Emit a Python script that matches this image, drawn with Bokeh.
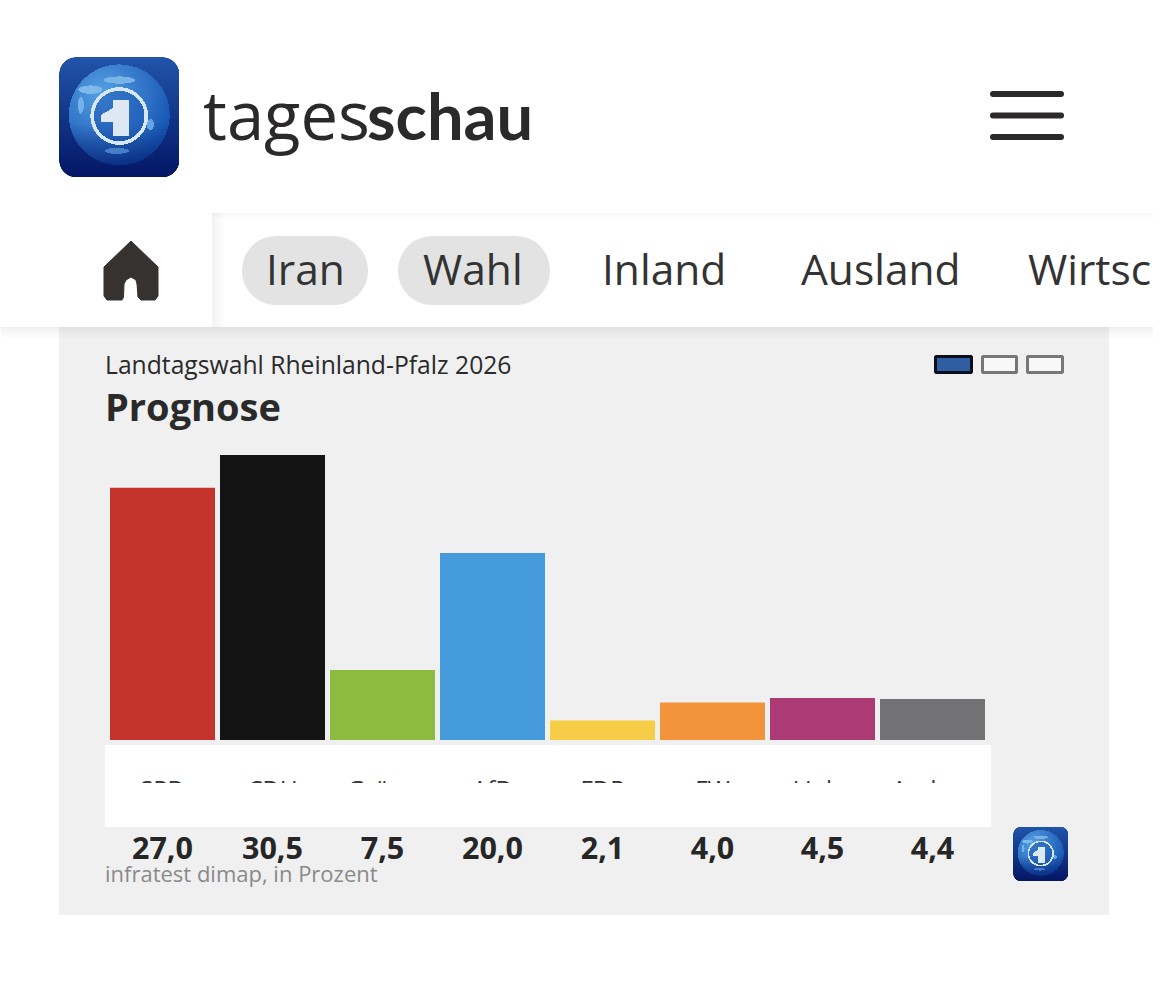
import numpy as np
from bokeh.core.properties import value
from bokeh.plotting import figure
from bokeh.models import Range1d
from bokeh.embed import file_html
from bokeh.resources import INLINE

categories = ["SPD", "CDU", "Grüne", "AfD", "FDP", "FW", "Linke", "Andere"]
values = [27.0, 30.5, 7.5, 20.0, 2.1, 4.0, 4.5, 4.4]
colors = ["#c4342c", "#141414", "#8cbb40", "#459bdb", "#f7cc47", "#f2943c", "#ac3a75", "#727275"]
nav_labels = ["Iran", "Wahl", "Inland", "Ausland", "Wirtsc"]

FONT = "Open Sans"
DARK = "#2b2a29"
L, T, R, B = 0.5, 0.5, 1153.5, 972.5
PX_PER_PCT = 9.344
BASE_Y = 740
PITCH = 110
FIRST_X = 162.5

p = figure(width=1153, height=972, output_backend="svg", toolbar_location=None,
           x_range=Range1d(L, R), y_range=Range1d(B, T), min_border=0,
           border_fill_color="white", background_fill_color="white")
p.axis.visible = False
p.grid.visible = False
p.outline_line_color = None
p.extra_x_ranges["idx"] = Range1d((L - FIRST_X) / PITCH, (R - FIRST_X) / PITCH)
p.extra_y_ranges["pct"] = Range1d((BASE_Y - B) / PX_PER_PCT, (BASE_Y - T) / PX_PER_PCT)
idx = list(range(len(categories)))


def logo(n):
    yy, xx = np.mgrid[0:n, 0:n]
    u, v = (xx + .5) / n, (yy + .5) / n
    top, bot = np.array([33, 84, 170.]), np.array([3, 22, 100.])
    img = top[None, None, :] * (1 - v[..., None]) + bot[None, None, :] * v[..., None]
    r0 = .14
    dx = np.maximum(np.abs(u - .5) - (.5 - r0), 0)
    dy = np.maximum(np.abs(v - .5) - (.5 - r0), 0)
    alpha = np.clip((r0 - np.hypot(dx, dy)) * n + .5, 0, 1)
    d = np.hypot(u - .5, v - .48)
    g = d < .42
    shade = np.clip(np.hypot(u - .36, v - .30) / .62, 0, 1)[..., None]
    globe = np.array([86, 160, 228.])[None, None, :] * (1 - shade) + np.array([22, 84, 178.])[None, None, :] * shade
    fade = np.clip((v - .55) / .35, 0, 1)[..., None] * .6
    globe = globe * (1 - fade) + bot[None, None, :] * fade
    img[g] = globe[g]
    for cx, cy, a, b, col in [(.26, .27, .10, .035, (125, 185, 235)), (.50, .19, .13, .03, (120, 180, 232)),
                              (.76, .56, .03, .045, (100, 165, 225)), (.48, .78, .10, .025, (70, 125, 200)),
                              (.18, .40, .025, .07, (115, 178, 232))]:
        m = ((u - cx) / a) ** 2 + ((v - cy) / b) ** 2 < 1
        img[m & g] = np.array(col, float)
    d2 = np.hypot(u - .5, v - .49)
    inner = d2 < .215
    img[inner] = img[inner] * .45 + np.array([28, 88, 180.]) * .55
    ring = (d2 >= .21) & (d2 < .24)
    img[ring] = np.array([214, 232, 246.])
    one = ((u > .45) & (u < .58) & (v > .36) & (v < .66)) | ((u > .35) & (u <= .45) & (v > .42) & (v < .54) & (v - .42 > (.45 - u) * .6))
    img[one & inner] = np.array([222, 232, 242.])
    out = np.dstack([img, alpha * 255]).round().astype(np.uint8)
    return out.view(np.uint32).reshape(n, n)


def text(x, y, s, size, color=DARK, style="normal", align="left", base="alphabetic", font=FONT, **kw):
    # the svg backend draws alphabetic text about 0.4 em lower than asked
    y = [v - 0.4 * size for v in y]
    return p.text(x=x, y=y, text=s, text_font=value(font), text_font_size=f"{size}px", text_color=color,
                  text_font_style=style, text_align=align, text_baseline=base, **kw)


# header
p.image_rgba(image=[logo(240)], x=[59], y=[57], dw=[120], dh=[120])
text([203], [141], ["tages"], 67)
text([367], [141], ["schau"], 65, style="bold", font="Lato")
for yy in (94, 115.5, 137):
    p.line([993, 1061], [yy, yy], line_color=DARK, line_width=6, line_cap="round")

# navigation
for i in range(6):
    p.quad(left=[212 + i * 2], right=[214 + i * 2], top=[213], bottom=[327], fill_color="#000000",
           fill_alpha=0.008 * (6 - i), line_color=None)
    p.quad(left=[212], right=[R], top=[213 + i], bottom=[214 + i], fill_color="#000000",
           fill_alpha=0.004 * (6 - i), line_color=None)
p.patch([131, 158, 158, 155, 141, 138, 137, 136, 131, 126, 124, 123.5, 122, 107, 104, 104],
        [241, 267, 296, 300, 300, 297, 284, 280, 277, 280, 284, 297, 300, 300, 296, 267],
        fill_color="#353230", line_color="#353230", line_width=1, line_join="round")
p.quad(left=[242, 398], right=[368, 550], top=[236, 236], bottom=[305, 305], fill_color="#e3e3e3",
       line_color=None, border_radius=34)
text([266, 423, 602, 801, 1028], [285] * 5, nav_labels, 42.5, color="#333333")

# panel
p.quad(left=[59], right=[1109], top=[327], bottom=[915], fill_color="#f0f0f1", line_color=None)
for i in range(11):
    p.quad(left=[L], right=[R], top=[327 + i], bottom=[328 + i], fill_color="#000000",
           fill_alpha=0.005 * (11 - i), line_color=None)

text([105], [374], ["Landtagswahl Rheinland-Pfalz 2026"], 24.7, color="#2a2a2a")
text([105], [421], ["Prognose"], 38, color="#2a2a2a", style="bold")

for x0, x1, fill, edge in [(935.5, 971.5, "#2f5ea3", "#0b0f1c"), (982.5, 1016.5, "#f8f8f8", "#777777"),
                           (1027.5, 1062.5, "#f8f8f8", "#777777")]:
    p.quad(left=[x0], right=[x1], top=[356.5], bottom=[372.5], fill_color=fill, line_color=edge, line_width=3)

# bars
p.vbar(x=idx, top=values, bottom=0, width=105 / PITCH, fill_color=colors, line_color=None,
       x_range_name="idx", y_range_name="pct")

# white band with the cut-off party names
p.quad(left=[105], right=[991], top=[745], bottom=[827], fill_color="white", line_color=None)
text(idx, [798] * 8, categories, 24, color="#333333", align="center", x_range_name="idx")
p.quad(left=[105], right=[991], top=[783], bottom=[827], fill_color="white", line_color=None)

# values
value_labels = [f"{v:.1f}".replace(".", ",") for v in values]
text(idx, [860] * 8, value_labels, 30.5, color="#262626", style="bold", align="center", x_range_name="idx")
text([105], [882], ["infratest dimap, in Prozent"], 22, color="#8a8a8a")
p.image_rgba(image=[logo(110)], x=[1013], y=[827], dw=[55], dh=[54])

open("out.html", "w").write(file_html(p, INLINE))
